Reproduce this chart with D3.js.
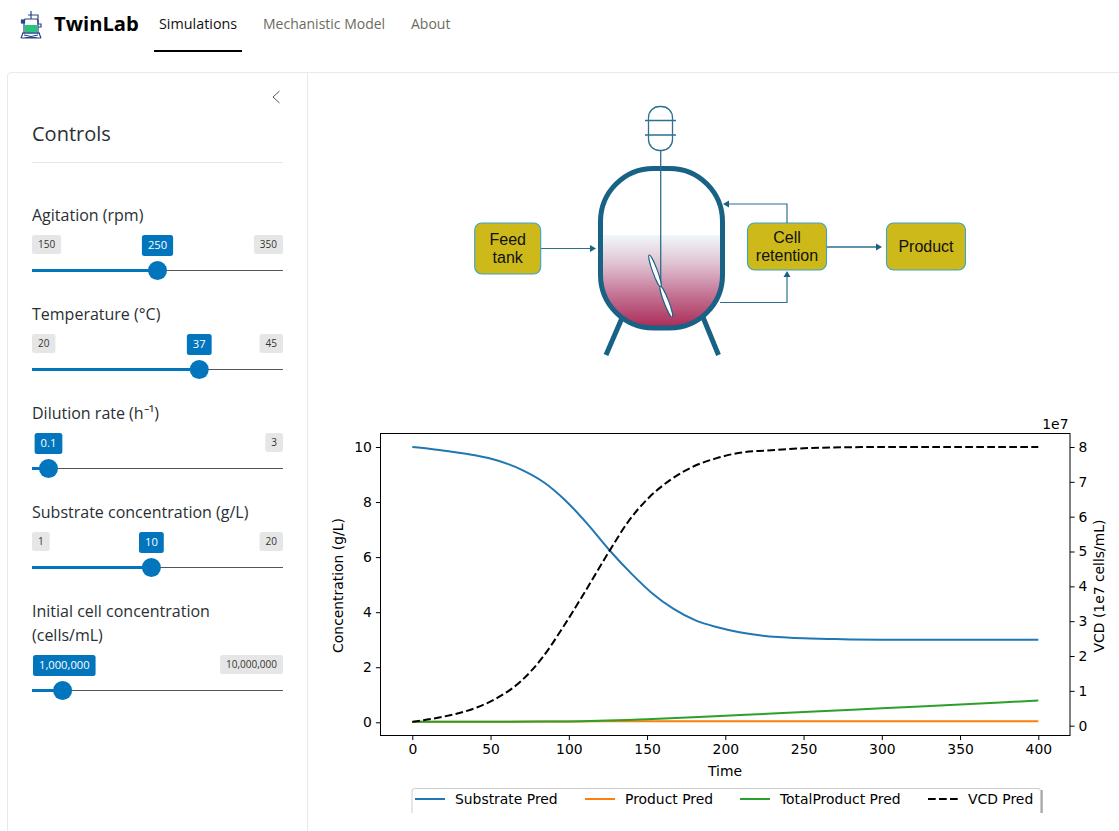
<!DOCTYPE html>
<html><head><meta charset="utf-8">
<script src="https://cdn.jsdelivr.net/npm/d3@7"></script>
<style>
html,body{margin:0;padding:0;background:#fff;overflow:hidden}
svg{display:block}
text{font-family:"Open Sans",sans-serif}
.mpl text{font-family:"DejaVu Sans",sans-serif;fill:#000}
.dia text{font-family:"Liberation Sans",Arial,sans-serif;fill:#111;font-size:16px;text-anchor:middle}
</style></head><body>
<svg id="c" width="1119" height="831" xmlns="http://www.w3.org/2000/svg"></svg>
<script>
// ---- chart data
const timeSub   = [0,12,25,40,55,70,84,98,112,126,140,153,167,181,195,209,223,237,250,265,280,300,320,360,400];
const substrate = [10,9.93,9.83,9.7,9.5,9.17,8.72,8.05,7.2,6.25,5.4,4.7,4.12,3.7,3.45,3.27,3.15,3.09,3.05,3.03,3.01,3.0,3.0,3.0,3.0];
const timeVcd   = [0,20,41,54,69,82.7,96.5,110.4,126.3,138,150.8,164.7,179.6,194.5,211.5,226.4,240,260,300,350,400];
const vcd       = [0.11,0.26,0.52,0.79,1.26,1.93,2.84,3.85,5.04,5.86,6.53,7.05,7.44,7.68,7.85,7.9,7.94,7.98,8.0,8.0,8.0];
const timeProd  = [0,50,100,150,200,250,300,350,400];
const product   = [0.02,0.02,0.03,0.04,0.04,0.04,0.04,0.04,0.04];
const total     = [0.02,0.02,0.03,0.11,0.24,0.37,0.51,0.65,0.79];
const xTicks    = [0,50,100,150,200,250,300,350,400];
const yTicks    = [0,2,4,6,8,10];
const y2Ticks   = [0,1,2,3,4,5,6,7,8];
const legendLabels = ["Substrate Pred","Product Pred","TotalProduct Pred","VCD Pred"];
const legendColors = ["#1f77b4","#ff7f0e","#2ca02c","#000000"];
// ---- controls data
const sliderLabels = [["Agitation (rpm)"],["Temperature (°C)"],["Dilution rate (h⁻¹)"],["Substrate concentration (g/L)"],["Initial cell concentration","(cells/mL)"]];
const sliderMins   = [150,20,0.01,1,100000];
const sliderMaxs   = [350,45,3,20,10000000];
const sliderVals   = [250,37,0.1,10,1000000];
const sliderMinText= ["150","20","","1",""];
const sliderMaxText= ["350","45","3","20","10,000,000"];
const sliderValText= ["250","37","0.1","10","1,000,000"];
const navItems     = ["Simulations","Mechanistic Model","About"];

const svg = d3.select("#c");
const BLUE="#0275bd";

// ---- nav
const logo = svg.append("g").attr("fill","none").attr("stroke","#2a4488").attr("stroke-width",1.2);
logo.append("path").attr("d","M25 19h12l1 2v12H24V21z");
logo.append("path").attr("d","M25 25h12v7q-6 2-12 0z").attr("fill","#27c47c").attr("stroke","none");
logo.append("path").attr("d","M28 15h10v4M31 11v8M38 15v9h3v3h-3M22 33h18M23 33l-2 5M39 33l2 5M21 38h20M24 35l14 3M38 35l-14 3");
logo.append("rect").attr("x",21.5).attr("y",20).attr("width",3).attr("height",3).attr("fill","#2a4488");
svg.append("text").attr("x",54).attr("y",31).attr("font-size",20.2).attr("font-weight",700)
  .attr("fill","#000").style("font-family","'Open Sans'").text("TwinLab");
const navX=[159,263,411], navCol=["#111","#6b6b5e","#6b6b5e"], navSize=[14.35,14,14];
svg.selectAll("text.nav").data(navItems).join("text").attr("class","nav")
  .attr("x",(d,i)=>navX[i]).attr("y",29).attr("font-size",(d,i)=>navSize[i]).attr("fill",(d,i)=>navCol[i]).text(d=>d);
svg.append("rect").attr("x",154).attr("y",50).attr("width",88).attr("height",2).attr("fill","#000");

// ---- card
svg.append("path").attr("d","M7.5 840V76a3.5 3.5 0 0 1 3.5-3.5H1125").attr("fill","none").attr("stroke","#e9e9e9");
svg.append("path").attr("d","M307.5 72.5V840").attr("fill","none").attr("stroke","#e9e9e9");
svg.append("path").attr("d","M279.5 91l-6.5 6 6.5 6").attr("fill","none").attr("stroke","#555").attr("stroke-width",1);
svg.append("text").attr("x",32).attr("y",141).attr("font-size",20).attr("fill","#2a2f33").text("Controls");
svg.append("path").attr("d","M32 162.5H283").attr("stroke","#e6e6e6");

// ---- sliders
const trackY=[270,369,468,567,690], labelY=[221,320,419,518,617];
const TL=32,TR=283,HR=9.5;
function pill(g,text,xFn,y,h,fill,col,fs){
  const gg=g.append("g");
  const r=gg.append("rect").attr("y",y).attr("height",h).attr("rx",2.5).attr("fill",fill);
  const t=gg.append("text").attr("y",y+h/2+3.7).attr("font-size",fs).attr("fill",col).attr("text-anchor","middle").text(text);
  const w=t.node().getComputedTextLength()+12;
  const x=xFn(w);
  r.attr("x",x).attr("width",w); t.attr("x",x+w/2);
}
sliderLabels.forEach((lines,i)=>{
  const g=svg.append("g");
  lines.forEach((l,j)=>g.append("text").attr("x",32).attr("y",labelY[i]+j*24).attr("font-size",16).attr("fill","#2a2f33").text(l));
  const s=d3.scaleLinear().domain([sliderMins[i],sliderMaxs[i]]).range([TL+HR,TR-HR]);
  const y=trackY[i],hx=s(sliderVals[i]);
  g.append("line").attr("x1",TL).attr("x2",TR).attr("y1",y+.5).attr("y2",y+.5).attr("stroke","#555").attr("stroke-width",1);
  g.append("line").attr("x1",TL).attr("x2",hx).attr("y1",y+.5).attr("y2",y+.5).attr("stroke",BLUE).attr("stroke-width",3);
  g.append("circle").attr("cx",hx).attr("cy",y+.5).attr("r",HR).attr("fill",BLUE);
  if(sliderMinText[i]) pill(g,sliderMinText[i],w=>TL,y-35,19,"#e6e6e6","#333",10);
  pill(g,sliderMaxText[i],w=>TR-w,y-35,19,"#e6e6e6","#333",10);
  pill(g,sliderValText[i],w=>Math.max(33,hx-w/2),y-35,21,BLUE,"#fff",11.2);
});

// ---- diagram
const dia=svg.append("g").attr("class","dia");
const TEAL="#176285", LINE="#2f6f90";
const grad=svg.append("defs").append("linearGradient").attr("id","liq").attr("x1",0).attr("x2",0).attr("y1",0).attr("y2",1);
[[0,"#f1f7fa"],[.3,"#e0c3d2"],[.65,"#c26f90"],[1,"#a92654"]].forEach(s=>grad.append("stop").attr("offset",s[0]).attr("stop-color",s[1]));
dia.append("defs").append("clipPath").attr("id","ves").append("rect").attr("x",601).attr("y",169).attr("width",121).attr("height",159).attr("rx",52);
dia.append("path").attr("d","M622 318L606 355M702.5 316L718.5 355").attr("stroke",TEAL).attr("stroke-width",5);
dia.append("rect").attr("x",601).attr("y",235).attr("width",121).attr("height",95).attr("fill","url(#liq)").attr("clip-path","url(#ves)");
dia.append("rect").attr("x",600.5).attr("y",168.5).attr("width",122).attr("height",159.5).attr("rx",53).attr("fill","none").attr("stroke",TEAL).attr("stroke-width",5);
dia.append("rect").attr("x",648.5).attr("y",106.5).attr("width",24).attr("height",44).attr("rx",11).attr("fill","#fff").attr("stroke",LINE).attr("stroke-width",1.3);
dia.append("path").attr("d","M645 120.5H676M645 135H676M660.7 150V287").attr("stroke",LINE).attr("stroke-width",1.3).attr("fill","none");
dia.append("ellipse").attr("cx",0).attr("cy",0).attr("rx",17).attr("ry",2.4).attr("transform","translate(655,271) rotate(70)").attr("fill","#fff").attr("stroke",TEAL).attr("stroke-width",1.1);
dia.append("ellipse").attr("cx",0).attr("cy",0).attr("rx",16.5).attr("ry",2.4).attr("transform","translate(666.3,301.7) rotate(69)").attr("fill","#fff").attr("stroke",TEAL).attr("stroke-width",1.1);
const boxes=[[474.7,223,66,51,["Feed","tank"]],[747.5,223,79,47,["Cell","retention"]],[886.5,223,79,47,["Product"]]];
boxes.forEach(b=>{
  dia.append("rect").attr("x",b[0]).attr("y",b[1]).attr("width",b[2]).attr("height",b[3]).attr("rx",7).attr("fill","#cdb919").attr("stroke","#3aa3c9").attr("stroke-width",1.1);
  const n=b[4].length, cy=b[1]+b[3]/2;
  b[4].forEach((t,i)=>dia.append("text").attr("x",b[0]+b[2]/2).attr("y",cy+5.5+(i-(n-1)/2)*18.5).text(t));
});
const arrows=[["M541 248.5H591",[596,248.5],0,1.2],["M787 223V204H728",[723,204],2,1.2],["M720 302.5H787V276",[787,271],3,1.2],["M827 247H877",[882,247],0,1.6]];
arrows.forEach(a=>{
  dia.append("path").attr("d",a[0]).attr("fill","none").attr("stroke",LINE).attr("stroke-width",a[3]);
  const rot=[0,90,180,-90][a[2]];
  dia.append("path").attr("d","M0 0L-6 -3.5V3.5Z").attr("fill",TEAL).attr("transform",`translate(${a[1][0]},${a[1][1]}) rotate(${rot})`);
});

// ---- chart
const P={l:380.5,r:1070,t:433.5,b:735.5};
const x=d3.scaleLinear().domain([0,400]).range([412.3,1038.3]);
const y=d3.scaleLinear().domain([0,10]).range([722.3,447]);
const y2=d3.scaleLinear().domain([0,8]).range([725.7,447]);
const m=svg.append("g").attr("class","mpl");
const FS=13.9;
const lineA=(xs,sc,vs)=>d3.line().curve(d3.curveMonotoneX).x((d,i)=>x(xs[i])).y(d=>sc(d))(vs);
const curves=[[timeVcd,y2,vcd,3],[timeSub,y,substrate,0],[timeProd,y,product,1],[timeProd,y,total,2]];
[curves[1],curves[2],curves[3],curves[0]].forEach(c=>{
  const p=m.append("path").attr("d",lineA(c[0],c[1],c[2])).attr("fill","none")
    .attr("stroke",legendColors[c[3]]).attr("stroke-width",2);
  if(c[3]===3)p.attr("stroke-dasharray","7.7,3.3");
});
m.append("rect").attr("x",P.l).attr("y",P.t).attr("width",P.r-P.l).attr("height",P.b-P.t).attr("fill","none").attr("stroke","#000").attr("stroke-width",1);
function style(g){g.select(".domain").remove();g.selectAll("line").attr("stroke","#000");g.selectAll("text").attr("font-size",FS).style("font-family","'DejaVu Sans'").attr("fill","#000");}
m.append("g").attr("transform",`translate(0,${P.b})`).call(d3.axisBottom(x).tickValues(xTicks).tickSize(4.6).tickPadding(4)).call(style);
m.append("g").attr("transform",`translate(${P.l},0)`).call(d3.axisLeft(y).tickValues(yTicks).tickSize(4.6).tickPadding(4)).call(style);
m.append("g").attr("transform",`translate(${P.r},0)`).call(d3.axisRight(y2).tickValues(y2Ticks).tickSize(4.6).tickPadding(4)).call(style);
m.append("text").attr("x",725).attr("y",776).attr("font-size",FS).attr("text-anchor","middle").text("Time");
m.append("text").attr("transform","translate(343,585.5) rotate(-90)").attr("font-size",FS).attr("text-anchor","middle").text("Concentration (g/L)");
m.append("text").attr("transform","translate(1104,586) rotate(-90)").attr("font-size",FS).attr("text-anchor","middle").text("VCD (1e7 cells/mL)");
m.append("text").attr("x",1068.5).attr("y",429).attr("font-size",FS).attr("text-anchor","end").text("1e7");
// legend
const lg=m.append("g");
lg.append("path").attr("d","M1041.6 790V813").attr("stroke","#aaa").attr("stroke-width",2.4);
lg.append("path").attr("d","M412 813V791a2.5 2.5 0 0 1 2.5-2.5H1038a2.5 2.5 0 0 1 2.5 2.5V813").attr("fill","#fff").attr("stroke","#ccc").attr("stroke-width",1);
const legX=[415,585,740,928];
legendLabels.forEach((l,i)=>{
  const ln=lg.append("line").attr("x1",legX[i]).attr("x2",legX[i]+30).attr("y1",799).attr("y2",799).attr("stroke",legendColors[i]).attr("stroke-width",2);
  if(i===3)ln.attr("stroke-dasharray","7.7,3.3");
  lg.append("text").attr("x",legX[i]+40).attr("y",803.7).attr("font-size",FS).text(l);
});
</script></body></html>
